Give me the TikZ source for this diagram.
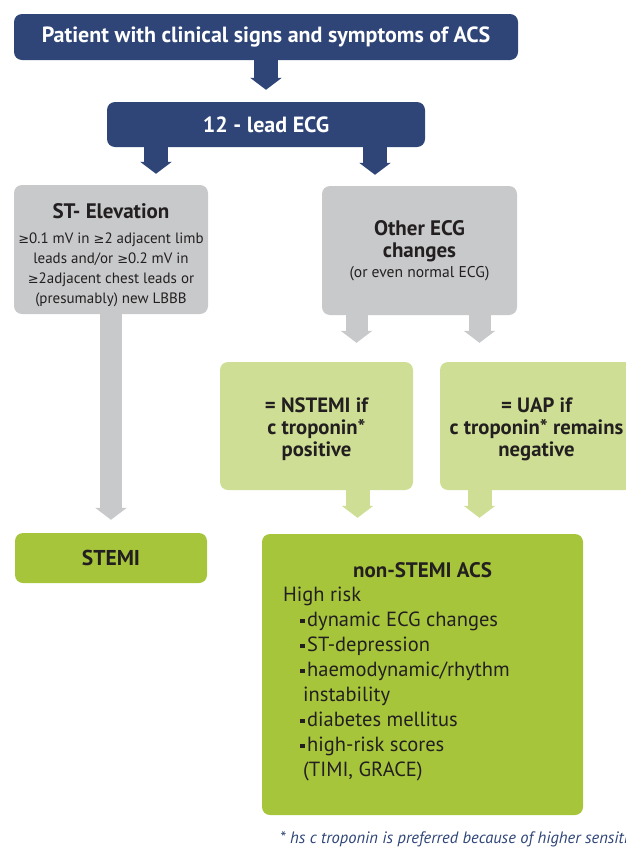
\documentclass[tikz,border=0pt]{standalone}
\usepackage{fontspec}
\setmainfont{PT Sans}
\newfontfamily\symfont{DejaVu Sans}
\usetikzlibrary{arrows.meta}
\definecolor{acsblue}{HTML}{2F4578}
\definecolor{acsgrey}{HTML}{C8C9CB}
\definecolor{acslight}{HTML}{CEDF95}
\definecolor{acsgreen}{HTML}{A6C53B}
\definecolor{acstext}{HTML}{231F20}
\newcommand{\sqbul}{\makebox[7pt][l]{\rule[3.5pt]{4.5pt}{4.5pt}}}
\newcommand{\gesym}{{\symfont\fontsize{13}{20}\selectfont ≥}}
\tikzset{
  box/.style={rounded corners=8pt, inner sep=0pt, align=center, text=acstext},
  bluebox/.style={box, fill=acsblue, text=white, font=\fontsize{22}{26}\selectfont\bfseries},
  greybox/.style={box, fill=acsgrey},
  lightbox/.style={box, fill=acslight, font=\fontsize{20.7}{22}\selectfont\bfseries},
  greenbox/.style={box, fill=acsgreen},
  fatarrow/.style={line width=24pt, -{Triangle[width=31pt,length=12pt]}},
}
\begin{document}
\begin{tikzpicture}[x=1pt,y=-1pt]
            \useasboundingbox (0,0) rectangle (625,849);
            \node(patient) at (266,37) [bluebox, minimum width=504pt, minimum height=46pt] {Patient with clinical signs and symptoms of ACS};
            \node(ecg) at (266,124.5) [bluebox, minimum width=318pt, minimum height=45pt] {12 - lead ECG};
            
            \node(st_elev) at (111,249.5) [greybox, minimum width=194pt, minimum height=129pt, font=\fontsize{15}{20}\selectfont] {{\rule{0pt}{26pt}\fontsize{21}{22}\selectfont\bfseries ST- Elevation}\\[5pt]\gesym0.1 mV in \gesym2 adjacent limb\\leads and/or \gesym0.2 mV in\\\gesym2adjacent chest leads or\\(presumably) new LBBB};
            \node(other_ecg) at (419.5,250.5) [greybox, minimum width=195pt, minimum height=129pt, font=\fontsize{21}{22}\selectfont\bfseries] {Other ECG\\changes\\[-2pt]{\fontsize{15.6}{16}\selectfont\mdseries (or even normal ECG)}};
            
            \node(nstemi) at (316.5,426) [lightbox, minimum width=193pt, minimum height=128pt] {\rule{0pt}{22pt}= NSTEMI if\\c troponin*\\positive};
            \node(uap) at (536.5,426) [lightbox, minimum width=193pt, minimum height=128pt] {\rule{0pt}{22pt}= UAP if\\c troponin* remains\\negative};
            
            \node(stemi) at (111,558) [greenbox, minimum width=192pt, minimum height=50pt, font=\fontsize{21.5}{22}\selectfont\bfseries] {STEMI};
            \node(non_stemi) at (422.5,674.5) [greenbox, minimum width=321pt, minimum height=281pt] {};
            \node(non_stemi_title) at (422.5,570) [text=acstext, font=\fontsize{21}{22}\selectfont\bfseries] {non-STEMI ACS};
            \node(risk_list) at (283,587) [anchor=north west, inner sep=0pt, align=left, text=acstext, font=\fontsize{20.5}{25}\selectfont] {High risk\\
              \hspace*{17pt}\sqbul dynamic ECG changes\\
              \hspace*{17pt}\sqbul ST-depression\\
              \hspace*{17pt}\sqbul haemodynamic/rhythm\\
              \hspace*{20pt}instability\\
              \hspace*{17pt}\sqbul diabetes mellitus\\
              \hspace*{17pt}\sqbul high-risk scores\\
              \hspace*{20pt}(TIMI, GRACE)};
            \node(footnote) at (280,843) [anchor=base west, inner sep=0pt, text=acsblue, font=\fontsize{16.5}{18}\selectfont\itshape] {* hs c troponin is preferred because of higher sensitivity};
            
            \draw[fatarrow, acsblue] (patient) -- (ecg) [shorten >=12pt];
            \draw[fatarrow, acsblue] ([xshift=-110pt]ecg.south) -- ([xshift=-110pt]ecg.south |- st_elev.north) [shorten >=11pt];
            \draw[fatarrow, acsblue] ([xshift=109pt]ecg.south) -- ([xshift=109pt]ecg.south |- other_ecg.north) [shorten >=11pt];
            \draw[fatarrow, acsgrey, line width=22pt] (st_elev) -- (stemi) [shorten >=13pt];
            \draw[fatarrow, acsgrey, line width=22pt] ([xshift=-63pt]other_ecg.south) -- ([xshift=-63pt]other_ecg.south |- nstemi.north) [shorten >=19pt];
            \draw[fatarrow, acsgrey, line width=22pt] ([xshift=60pt]other_ecg.south) -- ([xshift=60pt]other_ecg.south |- uap.north) [shorten >=19pt];
            \draw[fatarrow, acslight] ([xshift=41pt]nstemi.south) -- ([xshift=41pt]nstemi.south |- non_stemi.north) [shorten >=16pt];
            \draw[fatarrow, acslight] ([xshift=-57pt]uap.south) -- ([xshift=-57pt]uap.south |- non_stemi.north) [shorten >=16pt];
        \end{tikzpicture}
\end{document}
